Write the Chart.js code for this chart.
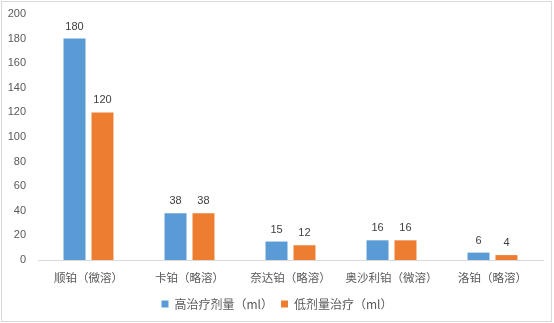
<!DOCTYPE html>
<html>
<head>
<meta charset="utf-8">
<script src="https://cdn.jsdelivr.net/npm/chart.js@4"></script>
<style>
  html, body { margin: 0; padding: 0; background: #fff; }
  #wrap { width: 554px; height: 323px; position: relative; }
</style>
</head>
<body>
<div id="wrap"><canvas id="c" width="554" height="323"></canvas></div>
<script>
const categories = ['顺铂（微溶）', '卡铂（略溶）', '奈达铂（略溶）', '奥沙利铂（微溶）', '洛铂（略溶）'];
const highDose = [180, 38, 15, 16, 6];
const lowDose = [120, 38, 12, 16, 4];
const seriesNames = ['高治疗剂量（ml）', '低剂量治疗（ml）'];
const yTicks = [0, 20, 40, 60, 80, 100, 120, 140, 160, 180, 200];

const FONT = "'Liberation Sans', 'Noto Sans CJK SC', sans-serif";
const CJK = "'Noto Sans CJK SC', 'Liberation Sans', sans-serif";

// White page with a thin grey frame
const framePlugin = {
  id: 'frame',
  beforeDraw(chart) {
    const ctx = chart.ctx;
    ctx.save();
    ctx.fillStyle = '#ffffff';
    ctx.fillRect(0, 0, chart.width, chart.height);
    ctx.strokeStyle = '#d9d9d9';
    ctx.lineWidth = 1;
    ctx.strokeRect(1.5, 1.5, chart.width - 4, chart.height - 3);
    ctx.restore();
  }
};

// Value labels above each bar
const valueLabels = {
  id: 'valueLabels',
  afterDatasetsDraw(chart) {
    const ctx = chart.ctx;
    ctx.save();
    ctx.font = '11px ' + FONT;
    ctx.fillStyle = '#404040';
    ctx.textAlign = 'center';
    ctx.textBaseline = 'middle';
    chart.data.datasets.forEach((ds, i) => {
      chart.getDatasetMeta(i).data.forEach((bar, j) => {
        ctx.fillText(String(ds.data[j]), bar.x, bar.y - 12);
      });
    });
    ctx.restore();
  }
};

new Chart(document.getElementById('c'), {
  type: 'bar',
  data: {
    labels: categories,
    datasets: [
      { label: seriesNames[0], data: highDose, backgroundColor: '#5B9BD5' },
      { label: seriesNames[1], data: lowDose, backgroundColor: '#ED7D31' }
    ]
  },
  options: {
    responsive: false,
    animation: false,
    devicePixelRatio: 1,
    categoryPercentage: 0.554,
    barPercentage: 0.786,
    layout: { padding: { top: 14, right: 0, bottom: 3, left: 0 } },
    plugins: {
      tooltip: { enabled: false },
      legend: {
        position: 'bottom',
        labels: {
          boxWidth: 7,
          boxHeight: 7,
          padding: 8,
          color: '#595959',
          font: { family: CJK, size: 12 }
        }
      }
    },
    scales: {
      x: {
        grid: { display: false, drawTicks: false },
        border: { display: true, color: '#d9d9d9' },
        ticks: { color: '#595959', padding: 11, font: { family: CJK, size: 11.5 } },
        afterFit(s) { s.height = 30; s.paddingLeft = 0; s.paddingRight = 0; }
      },
      y: {
        min: 0,
        max: 200,
        afterBuildTicks(s) { s.ticks = yTicks.map(v => ({ value: v })); },
        grid: { display: false, drawTicks: false },
        border: { display: false },
        ticks: { color: '#595959', padding: 12, font: { family: FONT, size: 11 } },
        afterFit(s) { s.width = 38; s.paddingTop = 0; s.paddingBottom = 0; }
      },
      // empty right-hand margin strip, keeps the plot clear of the frame
      yMargin: {
        type: 'linear',
        position: 'right',
        min: 0,
        max: 200,
        grid: { display: false, drawTicks: false },
        border: { display: false },
        ticks: { display: false },
        afterFit(s) { s.width = 11; s.paddingTop = 0; s.paddingBottom = 0; }
      }
    }
  },
  plugins: [framePlugin, valueLabels]
});
</script>
</body>
</html>
